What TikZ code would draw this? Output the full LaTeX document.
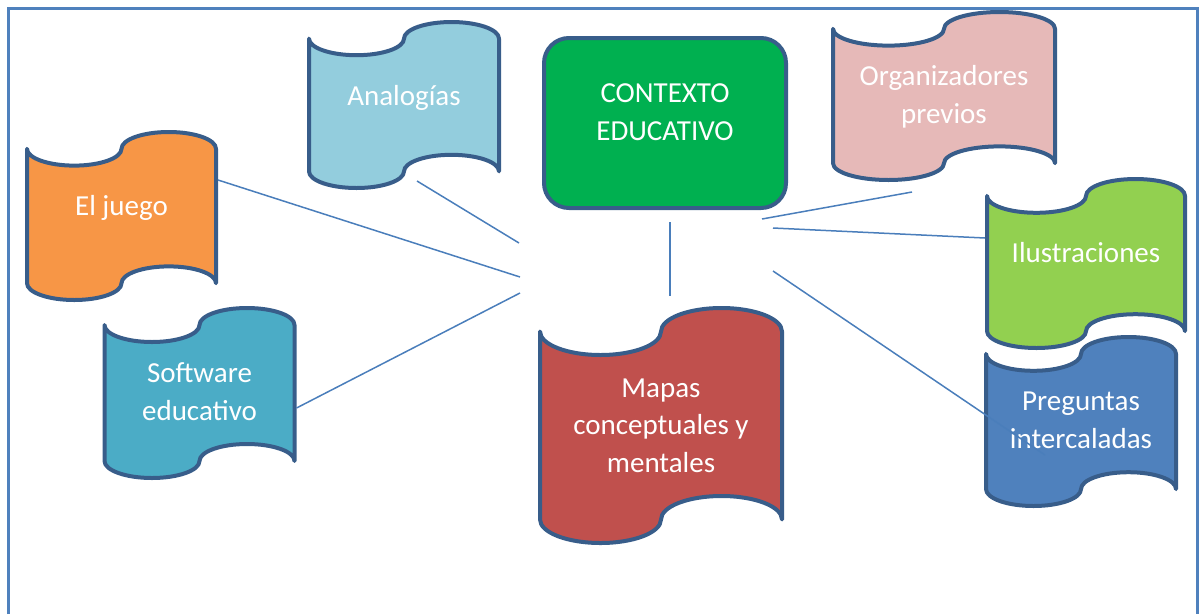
\documentclass[tikz,border=0pt]{standalone}
\usepackage{fontspec}
\setmainfont{Carlito}
\usepackage{xcolor}
\usetikzlibrary{calc}

\definecolor{outline}{HTML}{385D8A}
\definecolor{linkblue}{HTML}{4A7EBB}
\definecolor{framecol}{HTML}{4F81BD}
\definecolor{analogfill}{HTML}{93CDDD}
\definecolor{juegofill}{HTML}{F79646}
\definecolor{contextfill}{HTML}{00B050}
\definecolor{orgfill}{HTML}{E6B9B8}
\definecolor{ilusfill}{HTML}{92D050}
\definecolor{pregfill}{HTML}{4F81BD}
\definecolor{softfill}{HTML}{4BACC6}
\definecolor{mapasfill}{HTML}{C0504D}

\begin{document}
\begin{tikzpicture}[
  x=1pt,y=1pt,
  font=\fontsize{29}{37.5}\selectfont,
  tapeline/.style={draw=outline,line width=4pt,line join=round},
  tapebox/.style={inner sep=0pt,outer sep=0pt},
  txt/.style={text=white,align=center,anchor=base,inner sep=0pt},
  link/.style={draw=linkblue,line width=1.5pt}
]
\useasboundingbox (0,0) rectangle (1204,-614);

% frame, open at the bottom
\draw[framecol,line width=3pt] (8,-614) -- (8,-8) -- (1197,-8) -- (1197,-614);

% punched tape banner: name, cx, cy, w, h, fill, last baseline, text
\newcommand{\tape}[8]{%
  \path[tapeline,fill=#6] (#2-#4/2,-#3+#5/2-#5/10)
    arc[start angle=180,end angle=360,x radius=#4pt/4,y radius=#5pt/10]
    arc[start angle=180,end angle=0,x radius=#4pt/4,y radius=#5pt/10]
    -- ++(0,-#5*0.8)
    arc[start angle=0,end angle=180,x radius=#4pt/4,y radius=#5pt/10]
    arc[start angle=0,end angle=-180,x radius=#4pt/4,y radius=#5pt/10]
    -- cycle;
  \node[tapebox,minimum width=#4pt,minimum height=#5pt] (#1) at (#2,-#3) {};
  \node[txt] at (#2,-#7) {#8};}

% centre box
\node[draw=outline,line width=4pt,fill=contextfill,rounded corners=25pt,
  minimum width=242pt,minimum height=170pt] (context) at (665,-123) {};
\node[txt] at (665,-140) {CONTEXTO\\EDUCATIVO};

% banners
\tape{analog}{404}{105}{190}{166}{analogfill}{105}{Analogías}
\tape{juego}{121.5}{216}{189}{168}{juegofill}{215}{El juego}
\tape{org}{944}{96}{222}{168}{orgfill}{123}{Organizadores\\previos}
\tape{ilus}{1086}{263.5}{198}{169}{ilusfill}{262}{Ilustraciones}
\tape{preg}{1081}{421.5}{190}{169}{pregfill}{448}{Preguntas\\intercaladas}
\tape{soft}{199.5}{393}{190}{170}{softfill}{420}{Software\\educativo}
\tape{mapas}{661}{425.5}{242}{235}{mapasfill}{472}{Mapas\\conceptuales y\\mentales}

% loose ends round the centre
\coordinate (hubA) at (519,-243);
\coordinate (hubJ) at (520,-277);
\coordinate (hubS) at (520,-293);
\coordinate (hubM) at (670,-296);
\coordinate (hubO) at (762,-219);
\coordinate (hubI) at (773,-228);
\coordinate (hubP) at (773,-271);

% connectors
\draw[link] ([shift={(13,7)}]analog.south) -- (hubA);
\draw[link] ([shift={(2,36)}]juego.east) -- (hubJ);
\draw[link] ([shift={(2,-15)}]soft.east) -- (hubS);
\draw[link] ([shift={(5,-12)}]context.south) -- (hubM);
\draw[link] ([shift={(-32,-12)}]org.south) -- (hubO);
\draw[link] ([shift={(-2,25.5)}]ilus.west) -- (hubI);
\draw[link] (hubP) -- ([shift={(-36,-33.5)}]preg.center);
\end{tikzpicture}
\end{document}
